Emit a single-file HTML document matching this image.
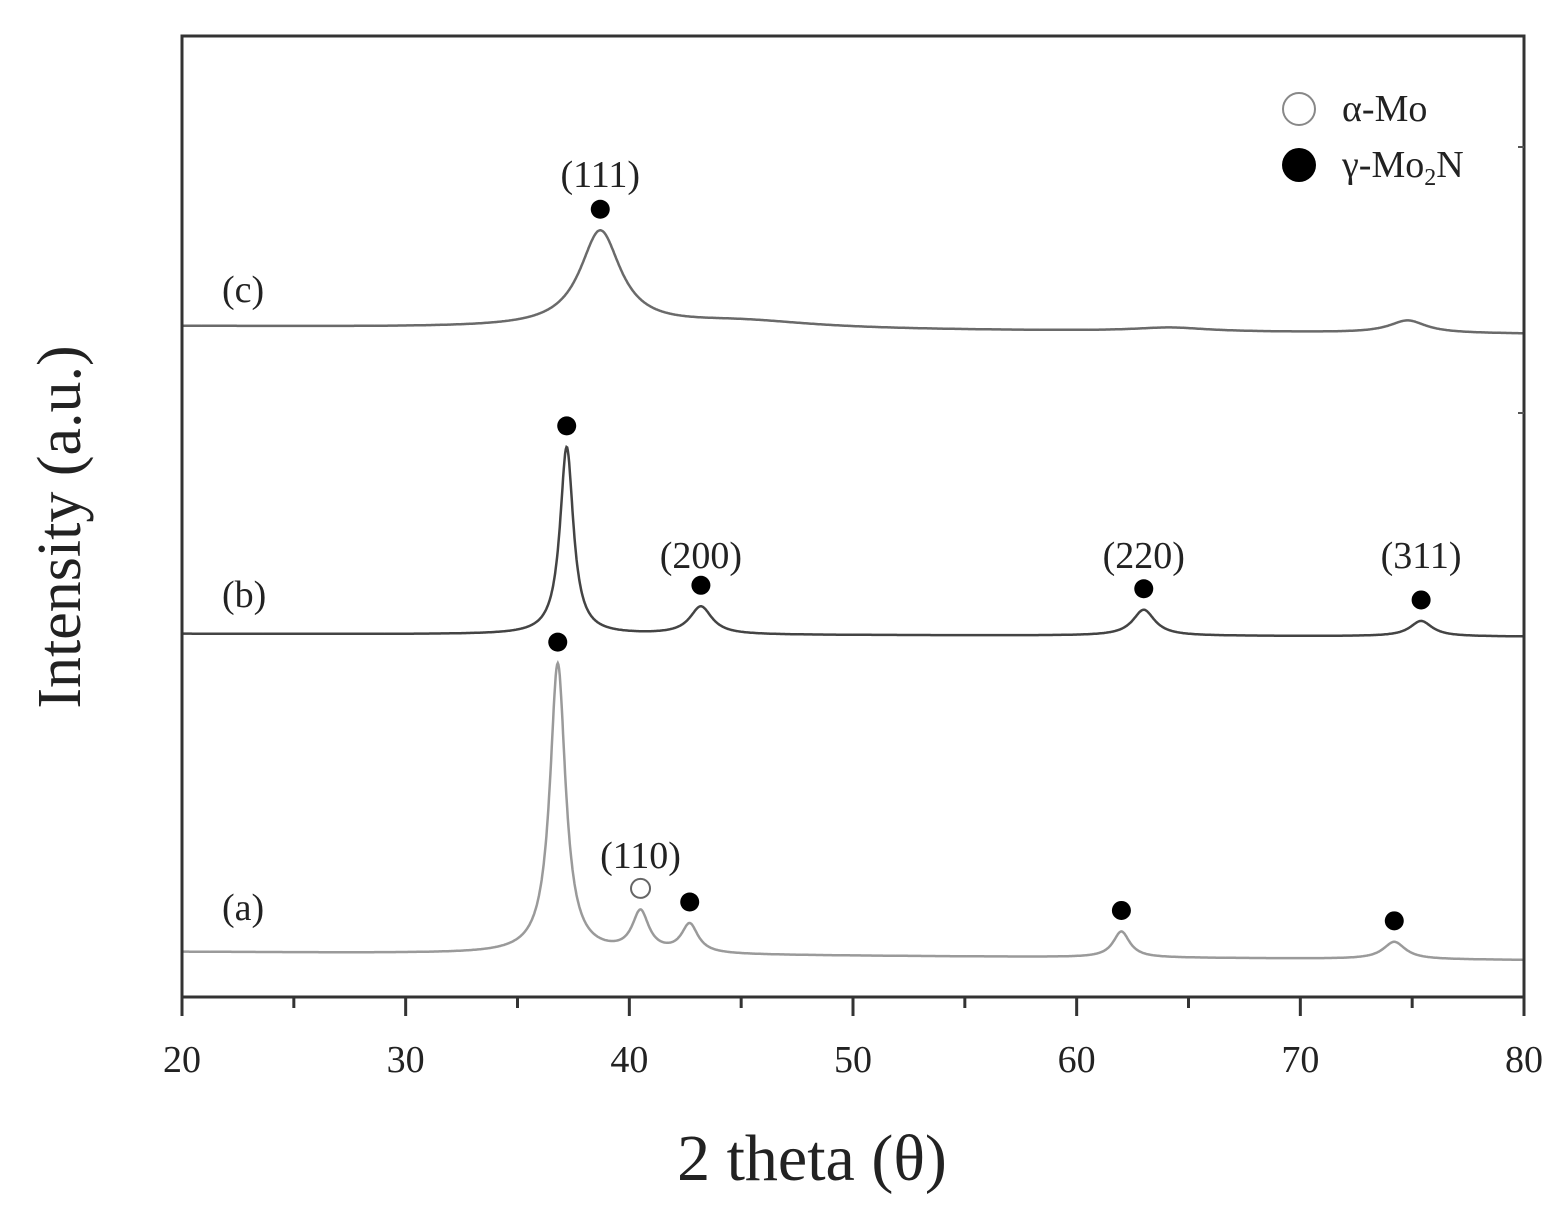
<!DOCTYPE html>
<html><head><meta charset="utf-8"><style>
body{margin:0;background:#fff}
svg text{font-family:"Liberation Serif",serif;fill:#222}
</style></head><body>
<svg id="chart" width="1566" height="1224" xmlns="http://www.w3.org/2000/svg">
<rect x="0" y="0" width="1566" height="1224" fill="#fff"/>
<g id="curves"></g>
<g id="marks"></g>
<rect x="182" y="36" width="1342" height="961" fill="none" stroke="#333" stroke-width="3"/>
<g id="axis"></g>
<text x="812" y="1180" font-size="66" text-anchor="middle">2 theta (θ)</text>
<text transform="translate(80,527) rotate(-90)" font-size="62" text-anchor="middle">Intensity (a.u.)</text>
<g>
<circle cx="1299" cy="109" r="16" fill="none" stroke="#888" stroke-width="2"/>
<text x="1342" y="121" font-size="38">α-Mo</text>
<circle cx="1299" cy="165" r="17" fill="#000"/>
<text x="1342" y="177" font-size="38">γ-Mo<tspan font-size="24" dy="8">2</tspan><tspan dy="-8">N</tspan></text>
</g>
</svg>
<script>
// data
const xTicks = [20,30,40,50,60,70,80];
const seriesNames = ['a','b','c'];
const baseStart = [4.7, 37.8, 69.8];
const baseEnd = [3.85, 37.5, 69.0];
const peaksA = [[36.8,30.2,0.42],[40.5,4.2,0.45],[42.7,3.0,0.45],[62.0,2.7,0.45],[74.2,1.8,0.6]];
const peaksB = [[37.2,19.5,0.36],[43.2,2.9,0.6],[63.0,2.7,0.6],[75.4,1.6,0.6]];
const peaksC = [[38.7,10.0,1.1],[45,0.8,4],[64.2,0.4,2],[74.8,1.3,1.0]];
const markersX = [[36.8,40.5,42.7,62.0,74.2],[37.2,43.2,63.0,75.4],[38.7]];
const markersOpen = [[false,true,false,false,false],[false,false,false,false],[false]];
const hklLabels = [['(110)',40.5,868],['(200)',43.2,568],['(220)',63.0,568],['(311)',75.4,568],['(111)',38.7,187]];
const seriesLabels = [['(a)',920],['(b)',607],['(c)',302]];
const colors = ['#9a9a9a','#444','#6a6a6a'];
const allPeaks = [peaksA,peaksB,peaksC];

const NS='http://www.w3.org/2000/svg';
const X = v => 182 + (v-20)/60*1342;
const Y = v => 997 - v*9.61;
function inten(s,x){
  let v = baseStart[s] + (baseEnd[s]-baseStart[s])*(x-20)/60;
  for(const [c,h,w] of allPeaks[s]){const d=(x-c)/w; v += h/(1+d*d);}
  return v;
}
const cg=document.getElementById('curves'), mg=document.getElementById('marks'), ag=document.getElementById('axis');
for(let s=0;s<3;s++){
  let d='';
  for(let x=20;x<=80.0001;x+=0.03){d+=(d?'L':'M')+X(x).toFixed(1)+','+Y(inten(s,x)).toFixed(1);}
  const p=document.createElementNS(NS,'path');
  p.setAttribute('d',d);p.setAttribute('fill','none');p.setAttribute('stroke',colors[s]);p.setAttribute('stroke-width','2.5');
  
  
  cg.appendChild(p);
  markersX[s].forEach((mx,i)=>{
    const c=document.createElementNS(NS,'circle');
    let top=Y(inten(s,mx))-21;
    c.setAttribute('cx',X(mx));c.setAttribute('cy',top);c.setAttribute('r',9.5);
    if(markersOpen[s][i]){c.setAttribute('fill','#fff');c.setAttribute('stroke','#666');c.setAttribute('stroke-width','2');}
    else c.setAttribute('fill','#000');
    
    
    mg.appendChild(c);
  });
  const t=document.createElementNS(NS,'text');
  t.setAttribute('x',222);t.setAttribute('y',seriesLabels[s][1]);t.setAttribute('font-size','38');
  t.textContent=seriesLabels[s][0];
  
  
  mg.appendChild(t);
}
hklLabels.forEach(h=>{
  const t=document.createElementNS(NS,'text');
  t.setAttribute('x',X(h[1]));t.setAttribute('y',h[2]);t.setAttribute('font-size','38');t.setAttribute('text-anchor','middle');
  t.textContent=h[0];
  
  
  mg.appendChild(t);
});
for(let v=20;v<=80;v+=5){
  const l=document.createElementNS(NS,'line');
  const major=v%10===0;
  l.setAttribute('x1',X(v));l.setAttribute('x2',X(v));l.setAttribute('y1',997);l.setAttribute('y2',major?1016:1008);
  l.setAttribute('stroke','#333');l.setAttribute('stroke-width','3');
  
  
  ag.appendChild(l);
}
xTicks.forEach(v=>{
  const t=document.createElementNS(NS,'text');
  t.setAttribute('x',X(v));t.setAttribute('y',1072);t.setAttribute('font-size','38');t.setAttribute('text-anchor','middle');
  t.textContent=v;
  
  
  ag.appendChild(t);
});
[147,413].forEach(y=>{
  const l=document.createElementNS(NS,'line');
  l.setAttribute('x1',1518);l.setAttribute('x2',1524);l.setAttribute('y1',y);l.setAttribute('y2',y);
  l.setAttribute('stroke','#555');l.setAttribute('stroke-width','2');
  
  
  ag.appendChild(l);
});
</script>
</body></html>
